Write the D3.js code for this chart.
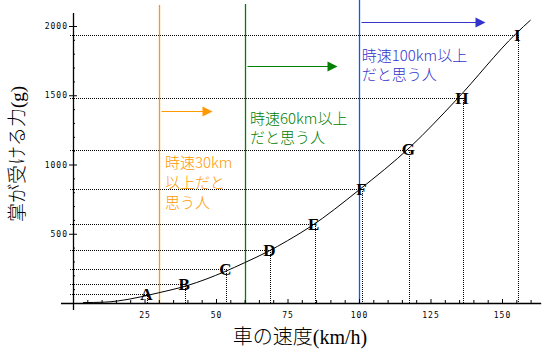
<!DOCTYPE html>
<html><head><meta charset="utf-8">
<script src="https://cdn.jsdelivr.net/npm/d3@7"></script>
<style>body{margin:0;background:#fff}svg{display:block}</style>
</head><body>
<svg id="c" width="556" height="355"></svg>
<script>
// Curve (speed km/h, force g)
const curveSpeed = [3.5, 11, 20, 30, 40, 53, 60, 68, 75, 83, 100, 118, 134, 155, 160];
const curveForce = [3, 6, 29, 74, 126, 226, 291, 370, 450, 551, 816, 1128, 1466, 1947, 2043];
// Labelled points A–I
const pointLabels = ["A","B","C","D","E","F","G","H","I"];
const pointSpeed = [26, 39.2, 53.6, 69, 84.5, 101.2, 117.6, 136.3, 155.7];
const pointForce = [63, 135, 243, 380, 568, 821, 1107, 1478, 1935];
// Opinion thresholds
const thresholdSpeed = [30, 60, 100];
const thresholdText = [["時速30km","以上だと","思う人"],["時速60km以上","だと思う人"],["時速100km以上","だと思う人"]];
// Ticks
const xTicks = d3.range(5, 161, 5);
const xTickLabels = [25, 50, 75, 100, 125, 150];
const yTicks = d3.range(100, 2001, 100);
const yTickLabels = [500, 1000, 1500, 2000];
const xTitle = "車の速度(km/h)";
const yTitle = "掌が受ける力(g)";

const svg = d3.select("#c");
svg.append("rect").attr("width",556).attr("height",355).attr("fill","#fff");
const x = d3.scaleLinear().domain([0,160]).range([73, 530.6]);
const y = d3.scaleLinear().domain([0,2000]).range([303, 26]);

const lineColor = ["#ff9900","#008000","#0060ff"];
const arrowColor = ["#ff9900","#008000","#3333cc"];
const textColor = ["#ff9900","#008000","#3333cc"];
const lineTop = [5, 4, 0];
const arrowY = [111, 65.7, 21.7];
const arrowLen = [53, 92, 126];
const textX = [165, 250, 361.7];
const textY0 = [161.7, 117, 54];

// dotted guide lines
const pts = pointLabels.map((l,i)=>({l, v:pointSpeed[i], g:pointForce[i]}));
const dots = svg.append("g").attr("stroke","#000").attr("stroke-width",1).attr("stroke-dasharray","1,1")
  .attr("shape-rendering","crispEdges");
dots.selectAll("line.h").data(pts).join("line").attr("class","h")
  .attr("x1",70).attr("x2",d=>x(d.v)).attr("y1",d=>Math.round(y(d.g))+0.5).attr("y2",d=>Math.round(y(d.g))+0.5);
dots.selectAll("line.v").data(pts).join("line").attr("class","v")
  .attr("x1",d=>Math.round(x(d.v))+0.5).attr("x2",d=>Math.round(x(d.v))+0.5).attr("y1",d=>Math.round(y(d.g))).attr("y2",y(0));

// threshold lines, arrows, texts
thresholdSpeed.forEach((s,i)=>{
  const xx = Math.round(x(s))+0.5;
  svg.append("line").attr("x1",xx).attr("x2",xx).attr("y1",lineTop[i]).attr("y2",y(0))
    .attr("stroke",lineColor[i]).attr("stroke-width",1.3);
  const ax0 = xx+2, ax1 = xx+arrowLen[i];
  const ay = Math.round(arrowY[i])+0.5;
  svg.append("line").attr("x1",ax0).attr("x2",ax1-9).attr("y1",ay).attr("y2",ay)
    .attr("stroke",arrowColor[i]).attr("stroke-width",1.2);
  svg.append("path").attr("d",`M${ax1-10},${ay-5}L${ax1},${ay}L${ax1-10},${ay+5}Z`)
    .attr("fill",arrowColor[i]);
  const t = svg.append("text").attr("fill",textColor[i])
    .attr("font-family","'Noto Sans CJK JP', sans-serif").attr("font-weight",300).attr("font-size",15);
  thresholdText[i].forEach((line,j)=>{
    t.append("tspan").attr("x",textX[i]).attr("y",textY0[i]+j*19.8).attr("dominant-baseline","central").text(line);
  });
});

// axes
const xAxis = d3.axisBottom(x).tickValues(xTicks).tickSizeInner(-3).tickSizeOuter(0).tickPadding(8)
  .tickFormat(d => xTickLabels.includes(d) ? d : "");
const gx = svg.append("g").attr("transform",`translate(0,${y(0)})`).call(xAxis);
gx.select(".domain").remove();
gx.selectAll(".tick line").attr("y2", d => xTickLabels.includes(d) ? -4 : -3);
gx.selectAll(".tick text").attr("font-family","'DejaVu Sans Mono', monospace").attr("font-size",8)
  .style("letter-spacing","1px").attr("fill","#000").attr("dy","0.35em").attr("y",12);
gx.append("line").attr("x1",x(-4.2)).attr("x2",x(163.7)).attr("y1",0.5).attr("y2",0.5).attr("stroke","#000").attr("stroke-width",1.3);

const yAxis = d3.axisLeft(y).tickValues(yTicks).tickSizeInner(-2).tickSizeOuter(0).tickPadding(5)
  .tickFormat(d => yTickLabels.includes(d) ? d : "");
const gy = svg.append("g").attr("transform",`translate(${x(0)},0)`).call(yAxis);
gy.select(".domain").remove();
gy.selectAll(".tick line").attr("x1", d => yTickLabels.includes(d) ? -4 : 0).attr("x2", d => yTickLabels.includes(d) ? 4 : 2);
gy.selectAll(".tick text").attr("font-family","'DejaVu Sans Mono', monospace").attr("font-size",8)
  .style("letter-spacing","1px").attr("fill","#000");
gy.append("line").attr("x1",0.5).attr("x2",0.5).attr("y1",y(2094)).attr("y2",y(-50.5)).attr("stroke","#000").attr("stroke-width",1.3);

// curve
const curveData = curveSpeed.map((v,i)=>[v, curveForce[i]]);
svg.append("path").datum(curveData)
  .attr("d", d3.line().x(d=>x(d[0])).y(d=>y(d[1])).curve(d3.curveMonotoneX))
  .attr("fill","none").attr("stroke","#000").attr("stroke-width",1);

// point labels
svg.append("g").selectAll("text").data(pts).join("text")
  .attr("x",d=>x(d.v)-1).attr("y",d=>y(d.g)).attr("dominant-baseline","central").attr("text-anchor","middle")
  .attr("font-family","'Liberation Serif', serif").attr("font-weight","bold").attr("font-size",17)
  .attr("fill","#000").text(d=>d.l);

// titles
svg.append("text").attr("x",300).attr("y",337).attr("text-anchor","middle").attr("dominant-baseline","central")
  .attr("font-family","'Liberation Serif', 'Noto Sans CJK JP', serif").attr("font-weight",300).attr("font-size",20).attr("fill","#000").text(xTitle);
svg.append("text").attr("transform","translate(17,154) rotate(-90)").attr("text-anchor","middle").attr("dominant-baseline","central")
  .attr("font-family","'Liberation Serif', 'Noto Sans CJK JP', serif").attr("font-weight",300).attr("font-size",19).attr("fill","#000").text(yTitle);
</script>
</body></html>
